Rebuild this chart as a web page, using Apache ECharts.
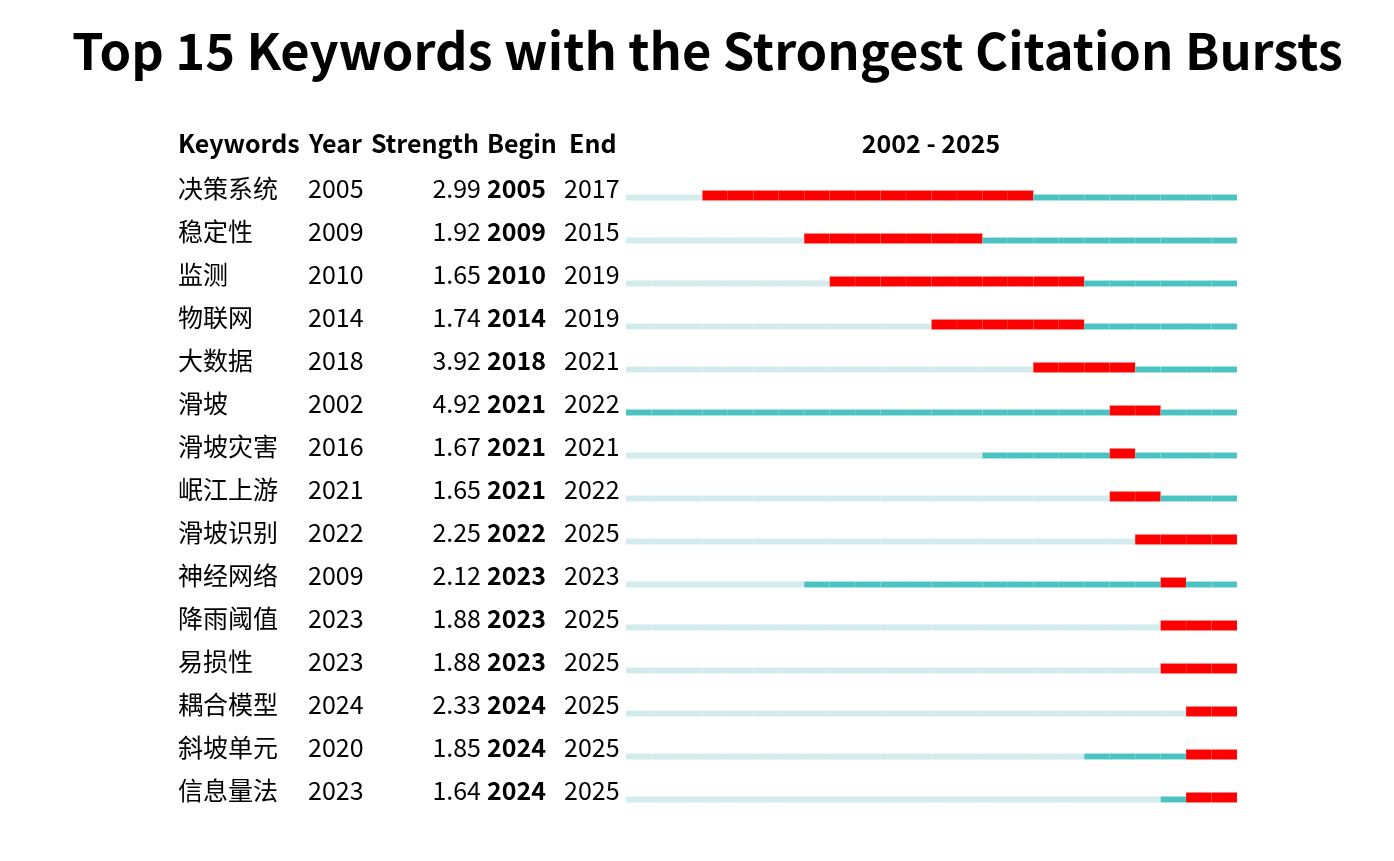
<!DOCTYPE html>
<html>
<head>
<meta charset="utf-8">
<script src="https://cdn.jsdelivr.net/npm/echarts@6/dist/echarts.min.js"></script>
<style>
html,body{margin:0;padding:0;background:#fff;}
#main{width:1394px;height:861px;}
</style>
</head>
<body>
<div id="main"></div>
<script>
const keywords = ['决策系统','稳定性','监测','物联网','大数据','滑坡','滑坡灾害','岷江上游','滑坡识别','神经网络','降雨阈值','易损性','耦合模型','斜坡单元','信息量法'];
const years = [2005,2009,2010,2014,2018,2002,2016,2021,2022,2009,2023,2023,2024,2020,2023];
const strengths = ['2.99','1.92','1.65','1.74','3.92','4.92','1.67','1.65','2.25','2.12','1.88','1.88','2.33','1.85','1.64'];
const begins = [2005,2009,2010,2014,2018,2021,2021,2021,2022,2023,2023,2023,2024,2024,2024];
const ends = [2017,2015,2019,2019,2021,2022,2021,2022,2025,2023,2025,2025,2025,2025,2025];
const startYear = 2002, endYear = 2025;
const headers = ['Keywords','Year','Strength','Begin','End'];
const titleText = 'Top 15 Keywords with the Strongest Citation Bursts';

const FONT = '"Noto Sans CJK SC", "Noto Sans", sans-serif';
const C_LIGHT = '#d3ebec', C_TEAL = '#4cc3c3', C_RED = '#ff0000';
const FS = 25;

const chart = echarts.init(document.getElementById('main'), null, {renderer:'canvas'});
const rowIdx = keywords.map((k,i)=>[startYear, i]);

const hdr = (txt, x) => ({type:'text', left:x, top:131, style:{text:txt, font:'bold '+FS+'px '+FONT, fill:'#000'}});

const option = {
  backgroundColor:'#fff',
  animation:false,
  grid:{left:626, width:611, top:166.5, height:645},
  xAxis:{type:'value', min:startYear, max:endYear+1, show:false},
  yAxis:{type:'category', data:keywords, inverse:true, show:false},
  graphic:[
    {type:'text', x:707.5, y:25, style:{text:titleText, font:'bold 50.6px '+FONT, fill:'#000', textAlign:'center'}},
    hdr(headers[0], 178), hdr(headers[1], 309), hdr(headers[2], 371),
    hdr(headers[3], 487), hdr(headers[4], 569),
    {type:'text', x:931, y:131, style:{text:startYear+' - '+endYear, font:'bold '+FS+'px '+FONT, fill:'#000', textAlign:'center'}}
  ],
  series:[
    {
      type:'custom',
      data:rowIdx,
      encode:{x:0, y:1},
      renderItem:function(params, api){
        const i = params.dataIndex;
        const children = [];
        const w = api.size([1,0])[0];
        const cy = api.coord([startYear, i])[1];
        const bottom = cy + 12.5;
        for(let y=startYear; y<=endYear; y++){
          let color, h;
          if(y>=begins[i] && y<=ends[i]){ color=C_RED; h=10; }
          else if(y<years[i]){ color=C_LIGHT; h=6; }
          else { color=C_TEAL; h=6; }
          const x = api.coord([y, i])[0];
          children.push({type:'rect', shape:{x:x, y:bottom-h, width:w, height:h},
            style:{fill:color, stroke:'rgba(255,255,255,0.12)', lineWidth:0.5}});
        }
        return {type:'group', children:children};
      }
    },
    {
      type:'custom',
      data:rowIdx,
      encode:{x:0, y:1},
      renderItem:function(params, api){
        const i = params.dataIndex;
        const cy = api.coord([startYear, i])[1];
        const mk = (txt, x, align, bold)=>({type:'text', x:x, y:cy, style:{text:txt, font:(bold?'bold ':'')+FS+'px '+FONT, fill:'#000', textAlign:align, textVerticalAlign:'middle'}});
        return {type:'group', children:[
          mk(keywords[i], 178, 'left', false),
          mk(String(years[i]), 308, 'left', false),
          mk(strengths[i], 481, 'right', false),
          mk(String(begins[i]), 487, 'left', true),
          mk(String(ends[i]), 564, 'left', false)
        ]};
      }
    }
  ]
};
chart.setOption(option);
</script>
</body>
</html>
